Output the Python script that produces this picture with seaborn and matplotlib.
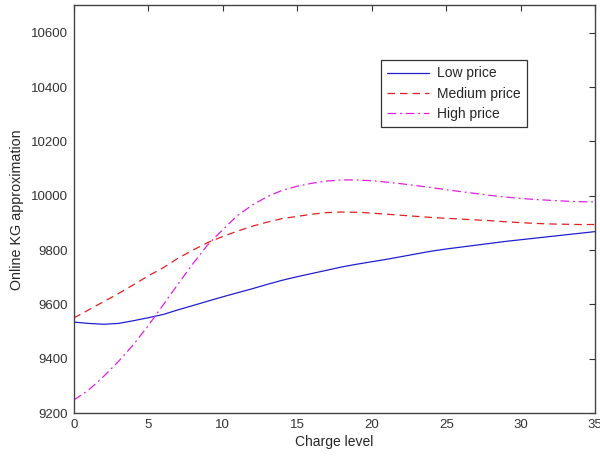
import matplotlib as mpl
import matplotlib.pyplot as plt
import seaborn as sns
import pandas as pd
import numpy as np

sns.set_style('white')
mpl.rcParams['font.family'] = ['Liberation Sans', 'DejaVu Sans']
mpl.rcParams['font.size'] = 10

charge = list(range(0, 36))
low_price = [9535, 9530, 9527, 9530, 9540, 9551, 9563, 9580, 9596, 9612,
             9628, 9643, 9658, 9674, 9689, 9702, 9714, 9726, 9738, 9748,
             9757, 9766, 9776, 9786, 9796, 9804, 9811, 9818, 9825, 9832,
             9838, 9844, 9850, 9856, 9862, 9868]
medium_price = [9550, 9580, 9610, 9640, 9672, 9705, 9735, 9770, 9800, 9828,
                9850, 9870, 9888, 9903, 9916, 9924, 9932, 9938, 9940, 9939,
                9936, 9932, 9928, 9924, 9920, 9917, 9914, 9911, 9908, 9904,
                9901, 9898, 9896, 9895, 9894, 9894]
high_price = [9248, 9285, 9335, 9390, 9452, 9522, 9598, 9675, 9750, 9820,
              9875, 9928, 9966, 9997, 10020, 10035, 10046, 10054, 10058, 10058,
              10055, 10050, 10044, 10037, 10030, 10022, 10015, 10008, 10001, 9995,
              9990, 9986, 9983, 9980, 9978, 9977]

series = [('Low price', low_price, '#2020d0', '-'),
          ('Medium price', medium_price, '#e02020', (0, (6, 4))),
          ('High price', high_price, '#e020e0', (0, (7, 3, 1.5, 3)))]

fig = plt.figure(figsize=(6, 4.58), dpi=100)
ax = fig.add_axes([0.123, 0.098, 0.869, 0.89])

for name, vals, col, ls in series:
    df = pd.DataFrame({'charge': charge, 'value': vals})
    sns.lineplot(data=df, x='charge', y='value', ax=ax, color=col,
                 linestyle=ls, linewidth=0.9, label=name)

ax.set_xlim(0, 35)
ax.set_ylim(9200, 10700)
ax.set_xticks(range(0, 36, 5))
ax.set_yticks(range(9200, 10601, 200))
ax.tick_params(direction='in', top=True, right=True, length=4, width=0.8,
               labelsize=9.5, colors='#333333', pad=4)
for sp in ax.spines.values():
    sp.set_color('#444444')
    sp.set_linewidth(1.0)
    sp.set_visible(True)

ax.set_xlabel('Charge level', fontsize=10, labelpad=3)
ax.set_ylabel('Online KG approximation', fontsize=10.3, labelpad=5)

leg = ax.legend(loc='upper left', bbox_to_anchor=(0.589, 0.866), borderaxespad=0,
                fancybox=False, edgecolor='#333333', framealpha=1,
                handlelength=3.0, handletextpad=0.6, fontsize=10,
                labelspacing=0.45, borderpad=0.45)
leg.get_frame().set_linewidth(0.9)

plt.savefig('out.png', dpi=100)
